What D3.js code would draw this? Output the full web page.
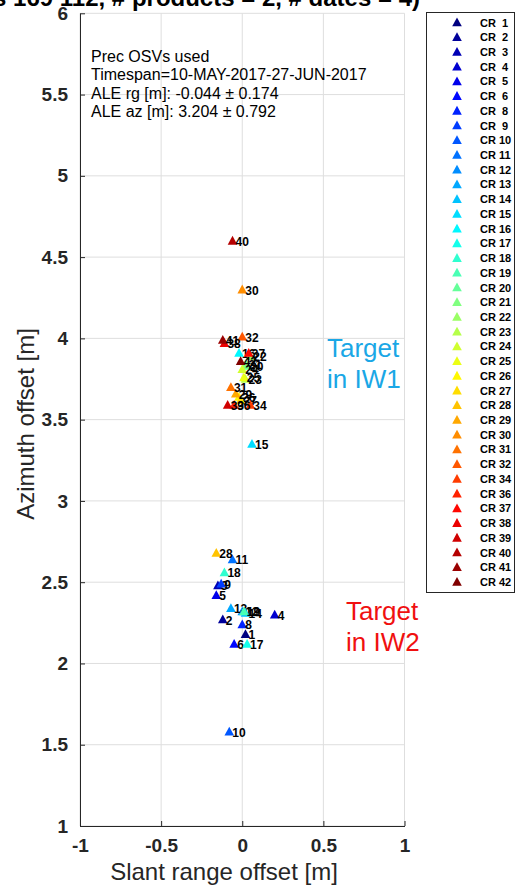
<!DOCTYPE html>
<html>
<head>
<meta charset="utf-8">
<script src="https://cdn.jsdelivr.net/npm/d3@7"></script>
<style>
  html, body { margin: 0; padding: 0; background: #fff; }
  svg { display: block; font-family: "Liberation Sans", Arial, Helvetica, sans-serif; }
</style>
</head>
<body>
<script>
// Corner reflector IDs and their measured offsets (slant range / azimuth, metres)
const crIds = [1, 2, 3, 4, 5, 6, 8, 9, 10, 11, 12, 13, 14, 15, 16, 17, 18, 19, 20, 21,
               22, 23, 24, 25, 26, 27, 28, 29, 30, 31, 32, 34, 36, 37, 38, 39, 40, 41, 42];
const rgOffsets = [0.02, -0.12, -0.15, 0.20, -0.16, -0.05, 0.00, -0.13, -0.08, -0.06,
                   0.00, -0.07, 0.02, 0.06, -0.02, 0.03, -0.11, 0.01, 0.03, 0.02,
                   0.05, 0.02, 0.00, 0.01, -0.02, -0.01, -0.16, -0.04, 0.00, -0.07,
                   0.00, 0.05, -0.05, 0.04, -0.11, -0.09, -0.06, -0.12, -0.01];
const azOffsets = [2.18, 2.27, 2.48, 2.30, 2.42, 2.12, 2.24, 2.49, 1.58, 2.64,
                   2.32, 2.34, 2.31, 3.35, 3.91, 2.12, 2.56, 2.32, 3.83, 3.84,
                   3.89, 3.75, 3.81, 3.76, 3.64, 3.62, 2.68, 3.66, 4.30, 3.70,
                   4.01, 3.59, 3.59, 3.91, 3.97, 3.59, 4.60, 3.99, 3.86];

const xTicks = [-1, -0.5, 0, 0.5, 1];
const yTicks = [1, 1.5, 2, 2.5, 3, 3.5, 4, 4.5, 5, 5.5, 6];
const infoLines = ["Prec OSVs used", "Timespan=10-MAY-2017-27-JUN-2017",
                   "ALE rg [m]: -0.044 \u00b1 0.174", "ALE az [m]: 3.204 \u00b1 0.792"];
const titleText = "ALE CRs (tracks 169 112, # products = 2, # dates = 4)";

const W = 516, H = 886;
const plot = { left: 80, right: 404.5, top: 13.3, bottom: 826 };

// jet colormap, as used for the per-reflector colours
function jet(t) {
  const c = v => Math.max(0, Math.min(1, v));
  const r = c(1.5 - Math.abs(4 * t - 3));
  const g = c(1.5 - Math.abs(4 * t - 2));
  const b = c(1.5 - Math.abs(4 * t - 1));
  return d3.rgb(r * 255, g * 255, b * 255).formatHex();
}
const color = d3.scaleOrdinal()
  .domain(crIds)
  .range(crIds.map((d, i) => jet(i / (crIds.length - 1))));

const x = d3.scaleLinear().domain([-1, 1]).range([plot.left, plot.right]);
const y = d3.scaleLinear().domain([1, 6]).range([plot.bottom, plot.top]);

const svg = d3.select("body").append("svg").attr("width", W).attr("height", H);

// title (partly above the visible area)
svg.append("text")
  .attr("x", 420).attr("y", 6)
  .attr("text-anchor", "end")
  .attr("font-size", 24).attr("font-weight", "bold").attr("fill", "#000")
  .text(titleText);

// grid
const grid = svg.append("g").attr("stroke", "#dedede").attr("stroke-width", 1);
grid.selectAll(".gx").data(xTicks).join("line")
  .attr("x1", d => x(d)).attr("x2", d => x(d))
  .attr("y1", plot.top).attr("y2", plot.bottom);
grid.selectAll(".gy").data(yTicks).join("line")
  .attr("x1", plot.left).attr("x2", plot.right)
  .attr("y1", d => y(d)).attr("y2", d => y(d));

// axes
const fmt = d => String(d);
const xAxis = d3.axisBottom(x).tickValues(xTicks).tickSizeInner(-5).tickSizeOuter(0)
  .tickPadding(13).tickFormat(fmt);
const yAxis = d3.axisLeft(y).tickValues(yTicks).tickSizeInner(-5).tickSizeOuter(0)
  .tickPadding(12).tickFormat(fmt);

const gx = svg.append("g").attr("transform", `translate(0,${plot.bottom})`).call(xAxis);
const gy = svg.append("g").attr("transform", `translate(${plot.left},0)`).call(yAxis);
[gx, gy].forEach(g => {
  g.select(".domain").attr("stroke", "#262626").attr("stroke-width", 1);
  g.selectAll(".tick line").attr("stroke", "#262626");
  g.selectAll(".tick text").attr("fill", "#262626").attr("font-size", 19)
    .attr("font-weight", "bold").attr("font-family", "Liberation Sans, Arial, sans-serif");
});
gx.selectAll(".tick text").attr("dy", "0.71em");

// axis labels
svg.append("text")
  .attr("x", 224).attr("y", 880)
  .attr("text-anchor", "middle").attr("font-size", 24).attr("fill", "#262626")
  .text("Slant range offset [m]");
svg.append("text")
  .attr("transform", `translate(34,424) rotate(-90)`)
  .attr("text-anchor", "middle").attr("font-size", 24).attr("fill", "#262626")
  .text("Azimuth offset [m]");

// triangle marker path
const tri = "M0,-5L4.8,3.8L-4.8,3.8Z";

// points with their CR labels
const pts = crIds.map((id, i) => ({ id, rg: rgOffsets[i], az: azOffsets[i] }));
const pg = svg.append("g");
pts.forEach(p => {
  pg.append("path")
    .attr("d", tri)
    .attr("transform", `translate(${x(p.rg)},${y(p.az)})`)
    .attr("fill", color(p.id));
  pg.append("text")
    .attr("x", x(p.rg) + 3).attr("y", y(p.az) + 5)
    .attr("font-size", 12).attr("font-weight", "bold").attr("fill", "#000")
    .text(p.id);
});

// info text block
svg.append("g").selectAll("text").data(infoLines).join("text")
  .attr("x", 91).attr("y", (d, i) => 62 + i * 18.4)
  .attr("font-size", 16).attr("fill", "#000")
  .text(d => d);

// swath annotations
const ann = [
  { lines: ["Target", "in IW1"], x: 327, y: 357, fill: "#1aa7e6" },
  { lines: ["Target", "in IW2"], x: 346, y: 620, fill: "#f01010" }
];
ann.forEach(a => {
  svg.append("g").selectAll("text").data(a.lines).join("text")
    .attr("x", a.x).attr("y", (d, i) => a.y + i * 31)
    .attr("font-size", 26).attr("fill", a.fill)
    .text(d => d);
});

// legend
const lg = svg.append("g");
lg.append("rect")
  .attr("x", 426.5).attr("y", 12.5).attr("width", 88).attr("height", 580)
  .attr("fill", "#fff").attr("stroke", "#262626").attr("stroke-width", 1);
const legendRow = d3.scaleLinear().domain([0, crIds.length - 1]).range([22.5, 582]);
crIds.forEach((id, i) => {
  lg.append("path")
    .attr("d", tri)
    .attr("transform", `translate(457,${legendRow(i)})`)
    .attr("fill", color(id));
  lg.append("text")
    .attr("x", 480).attr("y", legendRow(i) + 4)
    .attr("font-size", 11).attr("font-weight", "bold").attr("fill", "#000")
    .attr("xml:space", "preserve")
    .style("white-space", "pre")
    .text(id < 10 ? `CR  ${id}` : `CR ${id}`);
});
</script>
</body>
</html>
